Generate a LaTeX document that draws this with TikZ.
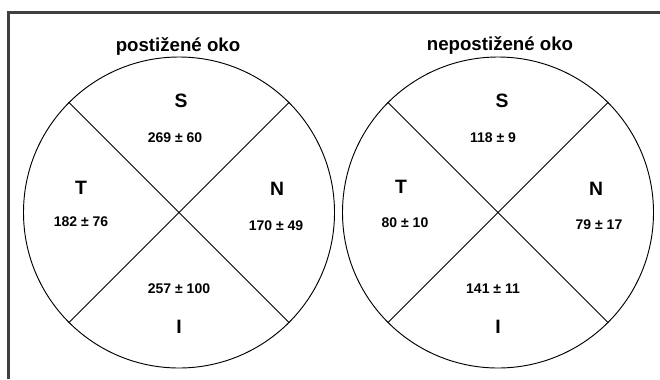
\documentclass[tikz,border=0pt]{standalone}
\usepackage{fontspec}
\setmainfont{Liberation Sans}
\begin{document}
\begin{tikzpicture}[x=0.75pt, y=-0.75pt,
    title/.style={anchor=base, font=\fontsize{14}{16}\selectfont\bfseries},
    sector/.style={anchor=base, font=\fontsize{14.5}{16}\selectfont\bfseries},
    value/.style={anchor=base, font=\fontsize{10.5}{12}\selectfont\bfseries},
    eye/.style={draw, line width=0.7pt, circle, minimum size=311pt*0.75, inner sep=0pt},
    cut/.style={line width=0.7pt}
]
\useasboundingbox (0,0) rectangle (660,379);
\draw[line width=1.6pt, black!75] (8.5,379) -- (8.5,12.5) -- (660,12.5);

% postizene oko
\node[title] (t1) at (178, 51) {postižené oko};
\node[eye] (e1) at (179, 212.5) {};
\draw[cut] (e1.135) -- (e1.-45);
\draw[cut] (e1.45) -- (e1.-135);
\node[sector] (s1) at (181, 107) {S};
\node[value]  (s1v) at (175, 142.5) {269 ± 60};
\node[sector] (t1l) at (81, 194) {T};
\node[value]  (t1v) at (81, 226.5) {182 ± 76};
\node[sector] (n1) at (277, 195) {N};
\node[value]  (n1v) at (276, 230) {170 ± 49};
\node[value]  (i1v) at (179, 293) {257 ± 100};
\node[sector] (i1) at (179, 333) {I};

% nepostizene oko
\node[title] (t2) at (500, 50) {nepostižené oko};
\node[eye] (e2) at (498, 212.5) {};
\draw[cut] (e2.135) -- (e2.-45);
\draw[cut] (e2.45) -- (e2.-135);
\node[sector] (s2) at (502, 107) {S};
\node[value]  (s2v) at (493, 142) {118 ± 9};
\node[sector] (t2l) at (401, 193) {T};
\node[value]  (t2v) at (405, 227) {80 ± 10};
\node[sector] (n2) at (596, 195) {N};
\node[value]  (n2v) at (599, 229) {79 ± 17};
\node[value]  (i2v) at (493, 293) {141 ± 11};
\node[sector] (i2) at (498, 333) {I};
\end{tikzpicture}
\end{document}
